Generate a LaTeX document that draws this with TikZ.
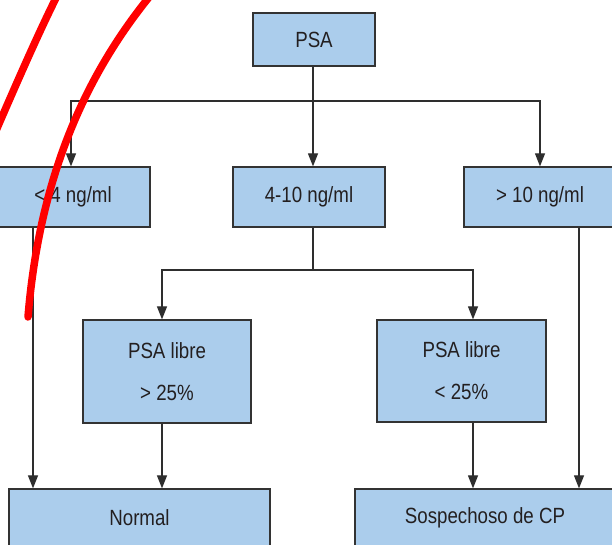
\documentclass[tikz,border=0pt]{standalone}
\usepackage{fontspec}
\setmainfont{Liberation Sans}[FakeStretch=0.85]
\usetikzlibrary{arrows.meta,calc}
\definecolor{boxfill}{HTML}{ABCDEC}
\definecolor{boxline}{HTML}{333333}
\definecolor{txt}{HTML}{231F20}
\definecolor{mark}{HTML}{FF0000}
\begin{document}
\begin{tikzpicture}[x=1pt,y=-1pt,
  box/.style={draw=boxline,line width=1.3pt,fill=boxfill,rectangle,inner sep=0pt,
    text=txt,font=\fontsize{22}{42}\selectfont,align=center},
  conn/.style={draw=boxline!90!black,line width=1.2pt},
  arr/.style={conn,-{Triangle[length=13pt,width=10pt]}},
  redmark/.style={draw=mark,line width=7.5pt,line cap=round}]
\useasboundingbox (0,0) rectangle (612,545);
% boxes
\node[box,minimum width=122pt,minimum height=53pt] (psa) at (314,39.5) {PSA};
\node[box,minimum width=154pt,minimum height=60pt] (lt4) at (73,197) {< 4 ng/ml};
\node[box,minimum width=152pt,minimum height=60pt] (mid) at (309,197) {4-10 ng/ml};
\node[box,minimum width=152pt,minimum height=60pt] (gt10) at (540,197) {> 10 ng/ml};
\node[box,minimum width=168pt,minimum height=103pt] (lib1) at (167,371.5) {PSA libre\\> 25\%};
\node[box,minimum width=169pt,minimum height=102pt] (lib2) at (461.5,371) {PSA libre\\< 25\%};
\node[box,minimum width=261pt,minimum height=58pt] (normal) at (139.5,518) {Normal};
\node[box,minimum width=260pt,minimum height=58pt] (sosp) at (485,518) {Sospechoso de CP};
% helper coordinates
\coordinate (x313) at (313,0);
\coordinate (x71) at (71,0);
\coordinate (x540) at (540,0);
\coordinate (x33) at (33,0);
\coordinate (x162) at (162,0);
\coordinate (x473) at (473,0);
\coordinate (x579) at (579,0);
\coordinate (j1) at (313,101);
\coordinate (j2) at (313,270);
% connectors
\draw[arr] (psa.south -| x313) -- (mid.north -| x313);
\draw[arr] (j1) -| (lt4.north -| x71);
\draw[arr] (j1) -| (gt10.north -| x540);
\draw[conn] (mid.south -| x313) -- (j2);
\draw[arr] (j2) -| (lib1.north -| x162);
\draw[arr] (j2) -| (lib2.north -| x473);
\draw[arr] (lt4.south -| x33) -- (normal.north -| x33);
\draw[arr] (lib1.south -| x162) -- (normal.north -| x162);
\draw[arr] (lib2.south -| x473) -- (sosp.north -| x473);
\draw[arr] (gt10.south -| x579) -- (sosp.north -| x579);
% red marks
\draw[redmark] (57,-4) .. controls (40,30) and (20,75) .. (-8,140);
\draw[redmark] (150,-4) .. controls (90,70) and (40,170) .. (28,317);
\end{tikzpicture}
\end{document}
